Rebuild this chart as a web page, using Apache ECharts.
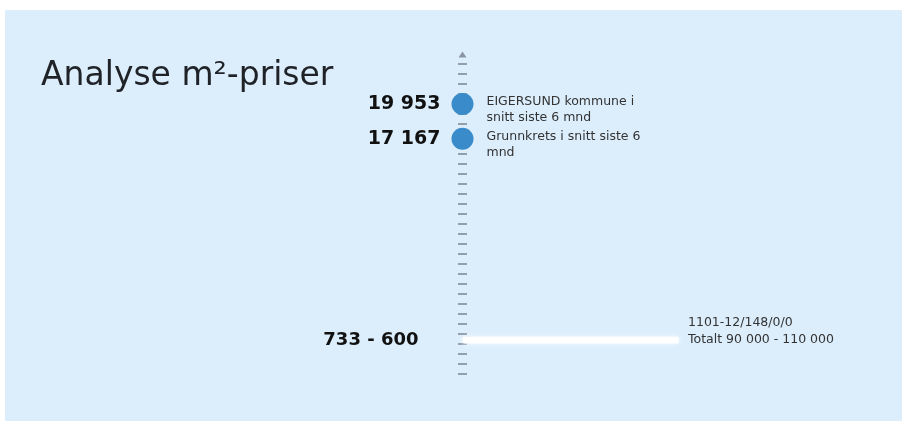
<!DOCTYPE html>
<html>
<head>
<meta charset="utf-8">
<script src="https://cdn.jsdelivr.net/npm/echarts@6/dist/echarts.min.js"></script>
<style>
  html, body { margin: 0; padding: 0; background: #ffffff; }
  #chart { width: 902px; height: 421px; }
</style>
</head>
<body>
<div id="chart"></div>
<script>
// m² price comparison: area averages shown as dots on a vertical price scale,
// plus the price range for the property itself as a horizontal band.
const titleText = 'Analyse m²-priser';

const areaNames = ['EIGERSUND kommune i\nsnitt siste 6 mnd', 'Grunnkrets i snitt siste 6\nmnd'];
const areaPrices = [19953, 17167];

const propertyRange = [600, 733];           // m² price range for the property
const propertyLines = ['1101-12/148/0/0', 'Totalt 90 000 - 110 000'];

const fmt = v => String(v).replace(/\B(?=(\d{3})+(?!\d))/g, ' ');

const chart = echarts.init(document.getElementById('chart'), null, { renderer: 'canvas' });

const priceMin = -1600, priceMax = 23200, priceStep = 800;

chart.setOption({
  animation: false,
  backgroundColor: '#ffffff',
  graphic: [
    { type: 'rect', z: -10, shape: { x: 5, y: 10, width: 897, height: 411 },
      style: { fill: '#dceefc' } },
    { type: 'text', left: 41, top: 60, z: 10,
      style: { text: titleText, fill: '#1f2227', font: '33px "DejaVu Sans", sans-serif' } }
  ],
  grid: { left: 462.5, right: 223, top: 63.4, height: 310 },
  xAxis: { type: 'value', min: 0, max: 1, show: false },
  yAxis: [
    {
      type: 'value', min: priceMin, max: priceMax, interval: priceStep,
      offset: -4.5,
      axisLine: { show: false },
      axisTick: { show: true, length: 9, lineStyle: { color: '#7f8b97', width: 1.6 } },
      axisLabel: { show: false },
      splitLine: { show: false }
    },
    {
      type: 'value', min: 0, max: 6200, show: false
    }
  ],
  series: [
    {
      // arrow head at the top of the price scale
      type: 'scatter', yAxisIndex: 0, silent: true,
      data: [[0, priceMax]],
      symbol: 'triangle', symbolSize: [8, 6], symbolOffset: [0, -9],
      itemStyle: { color: '#8a95a1', opacity: 1 }
    },
    {
      type: 'scatter', yAxisIndex: 0, z: 5,
      data: areaPrices.map((v, i) => ({ value: [0, v], name: areaNames[i] })),
      symbol: 'circle', symbolSize: 22,
      itemStyle: { color: '#3a8bca', opacity: 1 },
      label: {
        show: true, position: 'left', distance: 11,
        formatter: p => fmt(p.value[1]),
        color: '#111111', fontFamily: 'DejaVu Sans', fontWeight: 'bold', fontSize: 19
      }
    },
    {
      type: 'scatter', yAxisIndex: 0, silent: true, z: 4,
      data: areaPrices.map((v, i) => ({ value: [0, v], name: areaNames[i] })),
      symbol: 'circle', symbolSize: 22,
      itemStyle: { color: 'rgba(0,0,0,0)', opacity: 1 },
      label: {
        show: true, position: 'right', distance: 13,
        formatter: p => p.name,
        verticalAlign: 'top', offset: [0, -10],
        color: '#333333', fontFamily: 'DejaVu Sans', fontSize: 12.5, lineHeight: 16
      }
    },
    {
      type: 'custom', yAxisIndex: 1, silent: true,
      data: [propertyRange],
      renderItem: (params, api) => {
        const cs = params.coordSys;
        const yTop = api.coord([0, api.value(1)])[1];
        const yBot = api.coord([0, api.value(0)])[1];
        const yMid = (yTop + yBot) / 2;
        const x0 = cs.x, x1 = cs.x + cs.width;
        return {
          type: 'group',
          children: [
            { type: 'rect',
              shape: { x: x0, y: yTop, width: x1 - x0, height: yBot - yTop, r: 2 },
              style: { fill: 'rgba(255,255,255,0.95)', shadowBlur: 5, shadowColor: 'rgba(255,255,255,0.9)' } },
            { type: 'text',
              style: { x: x0 - 44, y: yMid, text: api.value(1) + ' - ' + api.value(0),
                       align: 'right', verticalAlign: 'middle',
                       fill: '#111111', font: 'bold 18px "DejaVu Sans", sans-serif' } },
            { type: 'text',
              style: { x: x1 + 9, y: yMid + 8, text: propertyLines.join('\n'),
                       align: 'left', verticalAlign: 'bottom', lineHeight: 17,
                       fill: '#333333', font: '12.5px "DejaVu Sans", sans-serif' } }
          ]
        };
      }
    }
  ]
});
</script>
</body>
</html>
